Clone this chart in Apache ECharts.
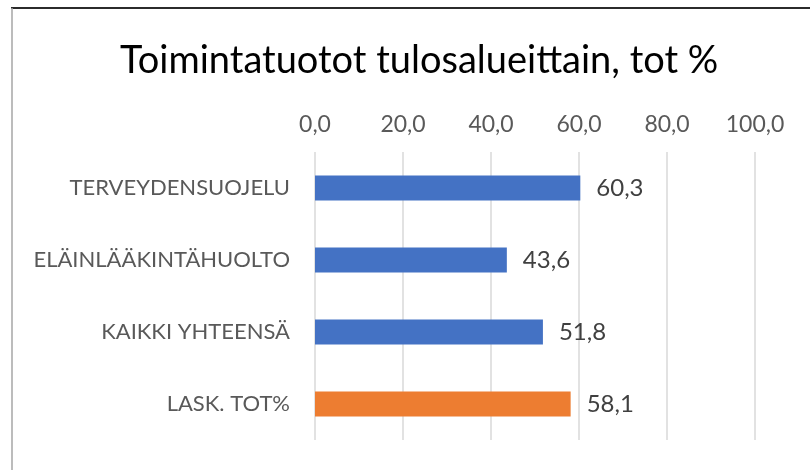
<!DOCTYPE html>
<html>
<head>
<meta charset="utf-8">
<script src="https://cdn.jsdelivr.net/npm/echarts@6/dist/echarts.min.js"></script>
<style>
html,body{margin:0;padding:0;background:#fff;}
#c{width:810px;height:470px;}
</style>
</head>
<body>
<div id="c"></div>
<script>
const titleText = 'Toimintatuotot tulosalueittain, tot %';
const categories = ['TERVEYDENSUOJELU', 'ELÄINLÄÄKINTÄHUOLTO', 'KAIKKI YHTEENSÄ', 'LASK. TOT%'];
const values = [60.3, 43.6, 51.8, 58.1];
const barColors = ['#4472C4', '#4472C4', '#4472C4', '#ED7D31'];
const axisMin = 0, axisMax = 100, axisStep = 20;

const fmt = v => Number(v).toFixed(1).replace('.', ',');

const chart = echarts.init(document.getElementById('c'), null, {renderer: 'canvas'});
chart.setOption({
  backgroundColor: '#fff',
  animation: false,
  title: {
    text: titleText,
    left: 115,
    top: 37,
    textStyle: {fontFamily: 'Lato', fontSize: 38, fontWeight: 'normal', color: '#000'}
  },
  graphic: [
    {type: 'line', shape: {x1: 11, y1: 8, x2: 810, y2: 8}, style: {stroke: '#2b2b2b', lineWidth: 2}},
    {type: 'line', shape: {x1: 12, y1: 8, x2: 12, y2: 470}, style: {stroke: '#a6a6a6', lineWidth: 1.5}}
  ],
  grid: {left: 315, right: 55, top: 152, bottom: 30, containLabel: false},
  xAxis: {
    type: 'value',
    position: 'top',
    min: axisMin, max: axisMax, interval: axisStep,
    axisLine: {show: false},
    axisTick: {show: false},
    splitLine: {lineStyle: {color: '#d9d9d9', width: 1.5}},
    axisLabel: {formatter: fmt, fontFamily: 'Lato', fontSize: 23, color: '#595959', margin: 16}
  },
  yAxis: {
    type: 'category',
    data: categories,
    inverse: true,
    axisLine: {show: false},
    axisTick: {show: false},
    axisLabel: {fontFamily: 'Lato', fontSize: 22, color: '#595959', margin: 25}
  },
  series: [{
    type: 'bar',
    data: values.map((v, i) => ({value: v, itemStyle: {color: barColors[i]}})),
    barWidth: 25,
    label: {
      show: true, position: 'right', distance: 16,
      formatter: p => fmt(p.value),
      fontFamily: 'Lato', fontSize: 24, color: '#404040'
    }
  }]
});
</script>
</body>
</html>
